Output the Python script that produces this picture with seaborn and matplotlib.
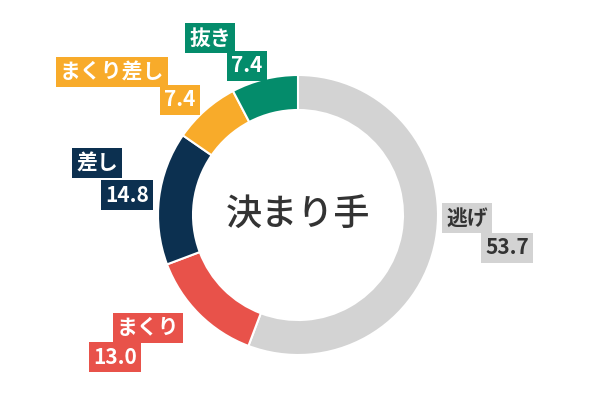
import matplotlib
matplotlib.use("Agg")
import matplotlib.pyplot as plt
import seaborn as sns

sns.set_theme(style="white")
plt.rcParams['font.family'] = ['Noto Sans CJK JP', 'DejaVu Sans']

names = ['逃げ', 'まくり', '差し', 'まくり差し', '抜き']
values = [53.7, 13.0, 14.8, 7.4, 7.4]
colors = ['#d3d3d3', '#e8524a', '#0c3050', '#f8ab2a', '#048c6b']
text_colors = ['#333333', 'white', 'white', 'white', 'white']
# label centres (name, value) in pixel coords from top-left
name_pos = [(467, 218), (148, 328), (97, 163), (112, 72), (210, 38)]
value_pos = [(507, 248), (115, 357), (127, 195), (180, 100), (247, 66)]

fig = plt.figure(figsize=(6, 4), dpi=100)
ax = fig.add_axes([0, 0, 1, 1])
ax.pie(values, colors=colors, startangle=90, counterclock=False,
       center=(298, 185), radius=140,
       wedgeprops=dict(width=35, edgecolor='white', linewidth=1.5))
ax.set_xlim(0, 600)
ax.set_ylim(0, 400)
ax.set_aspect('equal')
ax.axis('off')

ax.text(298, 185, '決まり手', ha='center', va='center', fontsize=26,
        color='#333333', fontweight='medium')

for n, v, c, tc, (nx, ny), (vx, vy) in zip(names, values, colors, text_colors,
                                           name_pos, value_pos):
    for s, (x, y) in ((n, (nx, ny)), (f'{v:.1f}', (vx, vy))):
        ax.text(x, 400 - y, s, ha='center', va='center', fontsize=15,
                fontweight='bold', color=tc,
                bbox=dict(boxstyle='square,pad=0.2', fc=c, ec='none'))

fig.savefig('out.png', dpi=100)
